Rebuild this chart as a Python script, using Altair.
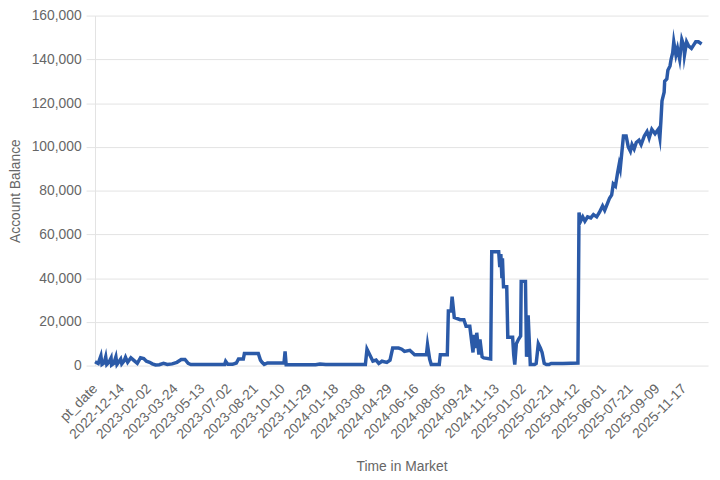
import json
import altair as alt
import pandas as pd

# x-axis tick labels (one every 50 rows of the source table)
tick_labels = ["pt_date", "2022-12-14", "2023-02-02", "2023-03-24", "2023-05-13",
               "2023-07-02", "2023-08-21", "2023-10-10", "2023-11-29", "2024-01-18",
               "2024-03-08", "2024-04-29", "2024-06-16", "2024-08-05", "2024-09-24",
               "2024-11-13", "2025-01-02", "2025-02-21", "2025-04-12", "2025-06-01",
               "2025-07-21", "2025-09-09", "2025-11-17"]

# row index in the table (categorical time axis)
rows = [0, 6, 11, 13, 17, 20, 22, 26, 30, 31, 35, 39, 41, 44, 48, 50, 54, 57, 61, 67,
        72, 79, 85, 91, 96, 102, 107, 113, 120, 128, 135, 144, 153, 161, 168, 174, 179,
        242, 244, 248, 257, 264, 268, 277, 279, 305, 309, 312, 316, 322, 353, 355, 357,
        412, 420, 431, 505, 508, 514, 519, 525, 530, 536, 545, 551, 556, 567, 573, 578,
        588, 597, 619, 621, 625, 628, 643, 645, 658, 660, 665, 667, 671, 682, 689, 693,
        700, 702, 706, 708, 711, 713, 717, 719, 723, 726, 739, 741, 754, 756, 758, 760,
        761, 763, 769, 771, 780, 782, 784, 787, 791, 795, 796, 804, 806, 809, 813, 821,
        824, 828, 832, 835, 839, 843, 848, 852, 874, 902, 904, 907, 911, 915, 920, 926,
        931, 937, 942, 948, 952, 957, 961, 965, 968, 972, 976, 979, 981, 985, 987, 992,
        996, 1000, 1003, 1007, 1011, 1016, 1020, 1026, 1031, 1035, 1040, 1046, 1052,
        1055, 1057, 1059, 1063, 1064, 1068, 1070, 1074, 1076, 1079, 1081, 1085, 1088,
        1092, 1096, 1100, 1101, 1105, 1109, 1114, 1118, 1122, 1127, 1133]

balance = [1800, 1000, 4500, 500, 1200, 4000, 500, 1500, 3500, 300, 1000, 4000, 500, 1500,
           3000, 800, 2000, 3800, 1500, 3600, 2500, 1000, 3600, 3200, 2000, 1500, 800, 300,
           400, 1000, 500, 800, 1500, 2800, 2800, 1000, 500,
           500, 2000, 600, 600, 1200, 3000, 3000, 5500, 5500, 2500, 1500, 500, 1200, 1200,
           6500, 400,
           400, 700, 500, 500, 7500, 4500, 2000, 2500, 1000, 2000, 1500, 2500, 8000, 8000,
           7500, 6500,
           7000, 5000, 5000, 9500, 3000, 500, 500, 5000, 5000, 25000, 25000, 31500, 22000,
           21000, 21000, 18000,
           18000, 14000, 6000, 14000, 8000, 15000, 5000, 12000, 4000, 3500, 3000, 52000,
           52000, 45000, 51000, 40000,
           49000, 36000, 36000, 13000, 13000, 5000, 500, 10000, 12000, 13500, 38500, 38500,
           4000, 23000, 500, 500,
           1000, 10000, 8000, 6000, 1000, 500, 500, 1000, 1000, 1200, 70000, 66000, 68000,
           66000, 68000, 67500,
           69000, 68000, 70000, 73000, 71000, 74000, 76500, 78000, 83000, 82000, 88000,
           92000, 90000, 100000, 105000, 105000,
           100000, 98000, 101000, 99000, 102000, 103000, 101000, 105000, 107000, 104000,
           108000, 106000, 108000,
           104000, 112000, 121000, 125000, 130000, 131000, 135000, 137000, 140000, 143000,
           148000, 142000, 145000,
           140000, 149000, 146000, 142000, 148000, 146000, 145000, 146500, 148000, 148000,
           147000]

df = pd.DataFrame({"row": rows, "balance": balance})

label_expr = json.dumps(tick_labels) + "[datum.value / 50]"

FONT = "Liberation Sans"
GRAY_TXT = "#666666"
GRID = "#e3e3e3"

chart = (
    alt.Chart(df)
    .mark_line(color="#2b5aa8", strokeWidth=3.5, strokeJoin="miter", strokeMiterLimit=10)
    .encode(
        x=alt.X(
            "row:Q",
            scale=alt.Scale(domain=[0, 1145], nice=False, zero=False),
            axis=alt.Axis(
                title="Time in Market",
                values=list(range(0, 1101, 50)),
                labelExpr=label_expr,
                labelAngle=-45,
                labelAlign="right",
                labelBaseline="middle",
                labelPadding=21,
                ticks=False,
                grid=False,
                domain=False,
                labelFont=FONT,
                labelFontSize=14,
                labelColor=GRAY_TXT,
                titleFont=FONT,
                titleFontSize=14,
                titleFontWeight="normal",
                titleColor=GRAY_TXT,
                titlePadding=19,
                labelOverlap=False,
            ),
        ),
        y=alt.Y(
            "balance:Q",
            scale=alt.Scale(domain=[0, 160000], nice=False),
            axis=alt.Axis(
                title="Account Balance",
                values=list(range(0, 160001, 20000)),
                format=",.0f",
                tickSize=9,
                tickColor=GRID,
                gridColor=GRID,
                domainColor=GRID,
                labelPadding=5,
                labelFont=FONT,
                labelFontSize=14,
                labelColor=GRAY_TXT,
                titleFont=FONT,
                titleFontSize=14,
                titleFontWeight="normal",
                titleColor=GRAY_TXT,
                titlePadding=9,
            ),
        ),
    )
    .properties(
        width=620,
        height=354,
        autosize=alt.AutoSizeParams(type="none"),
        padding={"left": 88, "top": 5, "right": 4, "bottom": 109},
    )
    .configure_view(stroke=None)
)

chart.save("out.html", embed_options={"renderer": "svg", "actions": False})
